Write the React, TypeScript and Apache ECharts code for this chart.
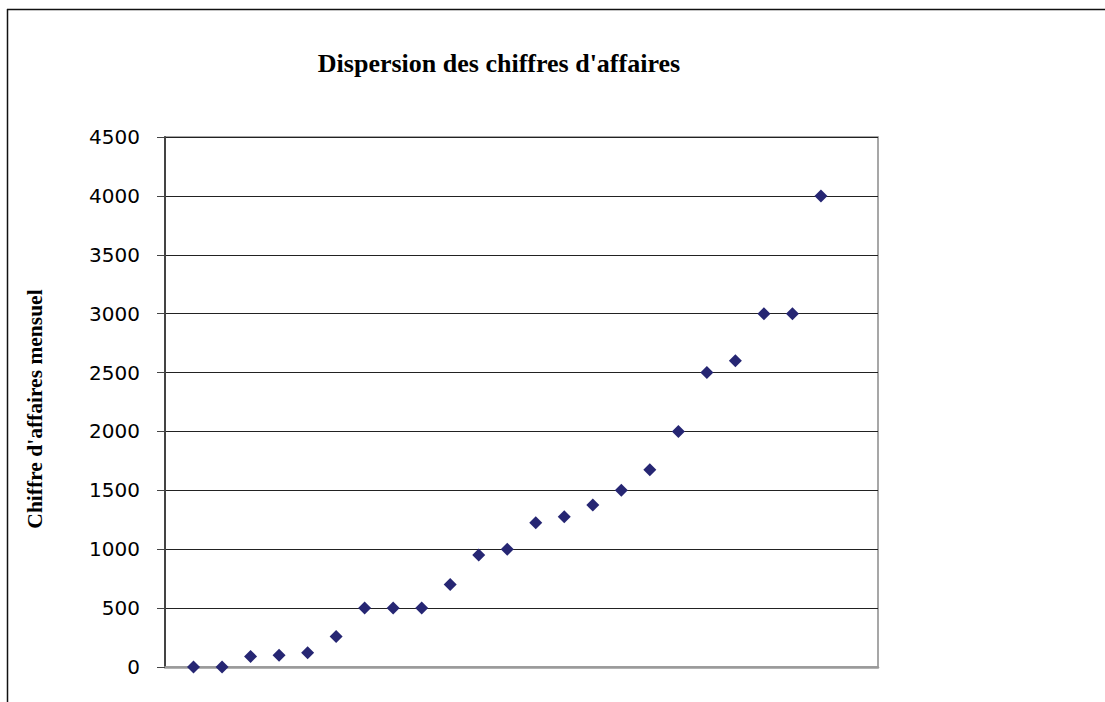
import React, { useEffect, useRef } from "react";
import * as echarts from "echarts";

const titleText = "Dispersion des chiffres d'affaires";
const yAxisName = "Chiffre d'affaires mensuel";
const xPositions = [1, 2, 3, 4, 5, 6, 7, 8, 9, 10, 11, 12, 13, 14, 15, 16, 17, 18, 19, 20, 21, 22, 23];
const revenues = [0, 0, 90, 100, 120, 260, 500, 500, 500, 700, 950, 1000, 1225, 1275, 1375, 1500, 1675, 2000, 2500, 2600, 3000, 3000, 4000];
const yTicks = { min: 0, max: 4500, interval: 500 };
const xRange = { min: 0, max: 25 };

export default function App() {
  const ref = useRef<HTMLDivElement>(null);
  useEffect(() => {
    if (!ref.current) return;
    const chart = echarts.init(ref.current, undefined, { renderer: "svg" });
    const data = xPositions.map((x, i) => [x, revenues[i]]);
    chart.setOption({
      animation: false,
      backgroundColor: "#ffffff",
      title: {
        text: titleText,
        left: 494,
        top: 45,
        textAlign: "center",
        textStyle: {
          fontFamily: "Liberation Serif",
          fontWeight: "bold",
          fontSize: 26,
          color: "#000",
        },
      },
      graphic: [
        {
          type: "line",
          shape: { x1: 7.5, y1: 9, x2: 7.5, y2: 702 },
          style: { stroke: "#111", lineWidth: 1.5 },
          silent: true,
        },
        {
          type: "line",
          shape: { x1: 7, y1: 9.5, x2: 1105, y2: 9.5 },
          style: { stroke: "#111", lineWidth: 1.5 },
          silent: true,
        },
      ],
      grid: {
        left: 165,
        top: 137,
        right: 227,
        bottom: 35,
        show: true,
        borderColor: "#8a8a8a",
        borderWidth: 1.5,
        backgroundColor: "transparent",
      },
      xAxis: {
        type: "value",
        min: xRange.min,
        max: xRange.max,
        axisLine: { show: true, onZero: false, lineStyle: { color: "#9a9a9a", width: 2.5 } },
        axisTick: { show: false },
        axisLabel: { show: false },
        splitLine: { show: false },
      },
      yAxis: {
        type: "value",
        min: yTicks.min,
        max: yTicks.max,
        interval: yTicks.interval,
        name: yAxisName,
        nameLocation: "middle",
        nameRotate: 90,
        nameGap: 119,
        nameTextStyle: {
          fontFamily: "Liberation Serif",
          fontWeight: "bold",
          fontSize: 21.5,
          color: "#000",
          padding: [0, 14, 0, 0],
        },
        axisLine: { show: true, lineStyle: { color: "#444", width: 2 } },
        axisTick: { show: true, inside: false, length: 8, lineStyle: { color: "#444", width: 1 } },
        axisLabel: {
          margin: 25,
          fontFamily: "DejaVu Sans",
          fontSize: 20,
          color: "#000",
          formatter: (v: number) => String(v),
        },
        splitLine: { show: true, lineStyle: { color: "#222", width: 1 } },
      },
      series: [
        {
          type: "scatter",
          data,
          symbol: "diamond",
          symbolSize: 13,
          itemStyle: { color: "#262673", opacity: 1 },
        },
      ],
    });
    return () => chart.dispose();
  }, []);
  return (
    <div
      ref={ref}
      style={{ position: "fixed", left: 0, top: 0, width: 1105, height: 702 }}
    />
  );
}
